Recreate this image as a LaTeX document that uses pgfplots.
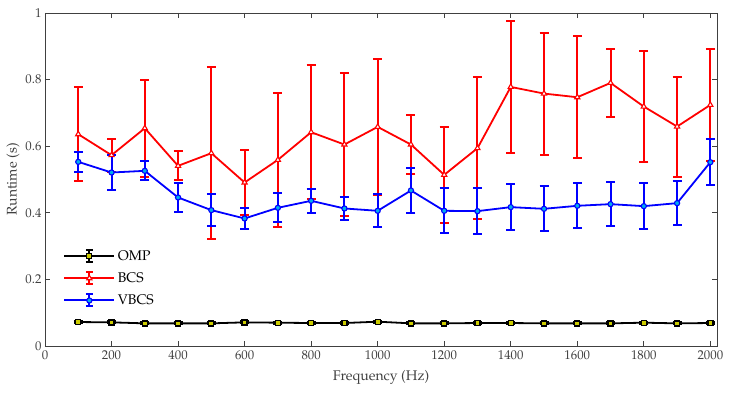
\documentclass[border=0pt]{standalone}
\usepackage[T1]{fontenc}
\usepackage{mathpazo}
\usepackage{pgfplots}
\usepackage{pgfplotstable}
\pgfplotsset{compat=1.18}
\definecolor{axgray}{gray}{0.25}
\definecolor{ompface}{rgb}{0.8,0.8,0}
\pgfplotstableread{
x y e
100 0.072 0.003
200 0.071 0.003
300 0.068 0.003
400 0.068 0.003
500 0.068 0.003
600 0.071 0.003
700 0.070 0.003
800 0.069 0.003
900 0.069 0.003
1000 0.073 0.003
1100 0.068 0.003
1200 0.068 0.003
1300 0.069 0.003
1400 0.069 0.003
1500 0.068 0.003
1600 0.068 0.003
1700 0.068 0.003
1800 0.070 0.003
1900 0.068 0.003
2000 0.069 0.003
}\omp
\pgfplotstableread{
x y e
100 0.636 0.142
200 0.573 0.049
300 0.654 0.146
400 0.541 0.044
500 0.579 0.258
600 0.491 0.099
700 0.559 0.202
800 0.642 0.202
900 0.605 0.214
1000 0.658 0.204
1100 0.605 0.088
1200 0.514 0.145
1300 0.594 0.213
1400 0.778 0.198
1500 0.758 0.183
1600 0.747 0.183
1700 0.790 0.102
1800 0.719 0.167
1900 0.659 0.150
2000 0.724 0.168
}\bcs
\pgfplotstableread{
x y e
100 0.553 0.030
200 0.521 0.053
300 0.526 0.029
400 0.446 0.043
500 0.408 0.048
600 0.383 0.031
700 0.415 0.044
800 0.436 0.036
900 0.413 0.035
1000 0.406 0.050
1100 0.467 0.067
1200 0.406 0.068
1300 0.405 0.069
1400 0.417 0.070
1500 0.412 0.068
1600 0.421 0.068
1700 0.426 0.067
1800 0.420 0.070
1900 0.429 0.067
2000 0.552 0.070
}\vbcs
\pgfplotsset{
  myleg/.style={legend image code/.code={
    \draw[##1,mark=none,line width=2pt] (25pt,-6pt) -- (25pt,6pt) (21.5pt,-6pt) -- (28.5pt,-6pt) (21.5pt,6pt) -- (28.5pt,6pt);
    \draw[##1,line width=2pt] (0pt,0pt) -- (50pt,0pt);
    \draw[##1] plot coordinates {(25pt,0pt)};
  }},
}
\begin{document}
\begin{tikzpicture}
\begin{axis}[
  scale only axis,
  width=672pt, height=333pt,
  xmin=0, xmax=2020, ymin=0, ymax=1,
  xtick={0,200,...,2000},
  ytick={0,0.2,0.4,0.6,0.8,1},
  yticklabels={0,0.2,0.4,0.6,0.8,1},
  x tick label style={/pgf/number format/set thousands separator={}},
  tick align=inside,
  major tick length=5pt,
  axis line style={axgray, line width=0.7pt},
  tick style={axgray, line width=0.7pt},
  tick label style={font=\fontsize{12.8}{14}\selectfont, text=axgray},
  xticklabel style={yshift=-1.5pt},
  label style={font=\fontsize{14}{16}\selectfont, text=axgray},
  xlabel={Frequency (Hz)},
  ylabel={Runtime (s)},
  xlabel style={yshift=-3pt},
  ylabel style={yshift=-1pt},
  legend cell align=left,
  legend style={draw=none, fill=none, at={(rel axis cs:0.027,0.295)}, anchor=north west,
    font=\fontsize{14}{16}\selectfont, inner sep=0pt, row sep=6pt,
    nodes={inner sep=2.5pt}},
  error bars/y dir=both, error bars/y explicit,
  error bars/error bar style={line width=2pt},
  error bars/error mark options={rotate=90, mark size=4.5pt, line width=2pt},
]
\addplot[black, line width=1.8pt, mark=square*, mark size=2.5pt,
  mark options={fill=ompface, draw=black, line width=1.3pt}, myleg]
  table[x=x, y=y, y error=e] {\omp};
\addlegendentry{OMP}
\addplot[red, line width=1.8pt, mark=triangle*, mark size=3pt,
  mark options={fill=white, draw=red, line width=1.1pt}, myleg]
  table[x=x, y=y, y error=e] {\bcs};
\addlegendentry{BCS}
\addplot[blue, line width=1.8pt, mark=*, mark size=2.6pt,
  mark options={fill=cyan, draw=blue, line width=1.1pt}, myleg]
  table[x=x, y=y, y error=e] {\vbcs};
\addlegendentry{VBCS}
\end{axis}
\path ([xshift=-45pt,yshift=-50pt]current axis.south west) ([xshift=16pt,yshift=13pt]current axis.north east);
\end{tikzpicture}
\end{document}
